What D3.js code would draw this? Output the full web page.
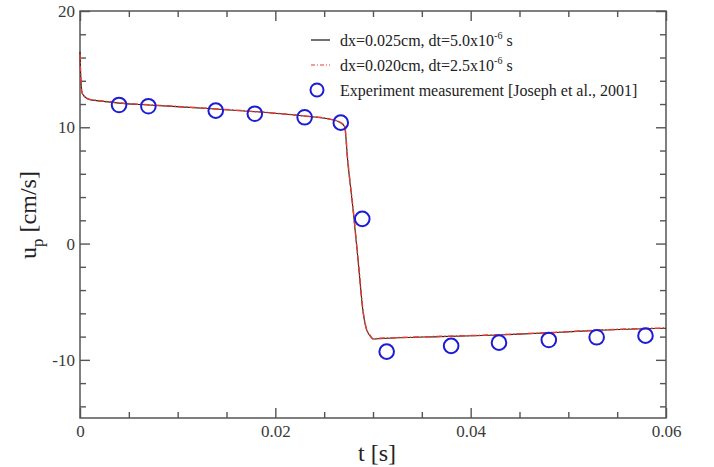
<!DOCTYPE html>
<html>
<head>
<meta charset="utf-8">
<script src="https://cdn.jsdelivr.net/npm/d3@7"></script>
<style>
  body { margin: 0; background: #fff; }
  svg { display: block; }
  svg text { font-family: "Liberation Serif", "Times New Roman", serif !important; }
</style>
</head>
<body>
<svg id="chart"></svg>
<script>
// Simulation, dx=0.025cm dt=5.0e-6 s (black solid)
const simAT = [0, 0.00005, 0.0001, 0.0002, 0.0004, 0.001, 0.002, 0.004, 0.007, 0.0139, 0.0179, 0.0229, 0.0256, 0.0266, 0.0271, 0.0274, 0.0280, 0.0285, 0.0290, 0.0293, 0.0297, 0.0300, 0.0307, 0.0369, 0.0430, 0.0492, 0.0533, 0.0600];
const simAU = [16.5, 15.0, 14.0, 13.0, 12.7, 12.38, 12.27, 12.08, 11.92, 11.57, 11.34, 10.97, 10.69, 10.43, 10.05, 7.2, 2.6, -1.7, -6.0, -7.3, -7.95, -8.2, -8.17, -8.0, -7.86, -7.63, -7.45, -7.28];

// Simulation, dx=0.020cm dt=2.5e-6 s (red dash-dot)
const simBT = [0, 0.00005, 0.0001, 0.0002, 0.0004, 0.001, 0.002, 0.004, 0.007, 0.0139, 0.0179, 0.0229, 0.0256, 0.0266, 0.0271, 0.0274, 0.0280, 0.0285, 0.0290, 0.0293, 0.0297, 0.0300, 0.0307, 0.0369, 0.0430, 0.0492, 0.0533, 0.0600];
const simBU = [16.3, 14.8, 13.9, 13.0, 12.7, 12.4, 12.29, 12.1, 11.94, 11.58, 11.35, 10.98, 10.7, 10.45, 10.1, 7.3, 2.7, -1.6, -5.9, -7.25, -7.9, -8.18, -8.15, -7.98, -7.84, -7.61, -7.43, -7.26];

// Experiment measurement [Joseph et al., 2001]
const obsT = [0.0040, 0.0070, 0.0139, 0.0179, 0.0230, 0.0267, 0.0289, 0.0314, 0.0380, 0.0429, 0.0480, 0.0529, 0.0579];
const obsU = [11.92, 11.81, 11.43, 11.17, 10.86, 10.40, 2.12, -9.29, -8.80, -8.52, -8.29, -8.06, -7.92];

const xMajor = [0, 0.02, 0.04, 0.06];
const xMinor = [0.005, 0.01, 0.015, 0.025, 0.03, 0.035, 0.045, 0.05, 0.055];
const yMajor = [-10, 0, 10, 20];
const yMinor = [-14, -12, -8, -6, -4, -2, 2, 4, 6, 8, 12, 14, 16, 18];

const legendLabels = [
  ["dx=0.025cm, dt=5.0x10", "-6", " s"],
  ["dx=0.020cm, dt=2.5x10", "-6", " s"],
  "Experiment measurement [Joseph et al., 2001]"
];

const width = 714;
const height = 467;
const margin = { top: 11, right: 48, bottom: 49, left: 80 };

const svg = d3.select("#chart")
  .attr("width", width)
  .attr("height", height)
  .attr("viewBox", [0, 0, width, height]);

const x = d3.scaleLinear()
  .domain([0, 0.06])
  .range([margin.left, width - margin.right]);

const y = d3.scaleLinear()
  .domain([-15, 20])
  .range([height - margin.bottom, margin.top]);

const axisColor = "#555";

// ticks pointing inward on all four sides
const addAxis = (axis, tx, ty, vals, size, labels) => {
  const g = svg.append("g")
    .attr("transform", `translate(${tx},${ty})`)
    .call(axis.tickValues(vals).tickSize(-size).tickPadding(labels ? 7 : 0)
      .tickFormat(labels ? (d => d3.format("")(d)) : () => ""));
  g.select(".domain").remove();
  g.selectAll(".tick line").attr("stroke", axisColor).attr("stroke-width", 1.4);
  g.selectAll(".tick text").attr("fill", "#3a3a3a").style("font-size", "17px");
  return g;
};

const xb = height - margin.bottom;
addAxis(d3.axisBottom(x), 0, xb, xMajor, 10, true);
addAxis(d3.axisBottom(x), 0, xb, xMinor, 6, false);
addAxis(d3.axisTop(x), 0, margin.top, xMajor, 10, false);
addAxis(d3.axisTop(x), 0, margin.top, xMinor, 6, false);
const yl = addAxis(d3.axisLeft(y), margin.left, 0, yMajor, 10, false);
yl.selectAll(".tick text").remove();
yl.selectAll(".tick").append("text")
  .attr("x", -5).attr("dy", "0.32em")
  .attr("text-anchor", "end")
  .attr("fill", "#3a3a3a")
  .style("font-size", "17px")
  .text(d => d);
addAxis(d3.axisLeft(y), margin.left, 0, yMinor, 6, false);
addAxis(d3.axisRight(y), width - margin.right, 0, yMajor, 10, false);
addAxis(d3.axisRight(y), width - margin.right, 0, yMinor, 6, false);

// frame
svg.append("rect")
  .attr("x", margin.left)
  .attr("y", margin.top)
  .attr("width", x(0.06) - x(0))
  .attr("height", y(-15) - y(20))
  .attr("fill", "none")
  .attr("stroke", axisColor)
  .attr("stroke-width", 1.5);

const line = d3.line()
  .x(d => x(d[0]))
  .y(d => y(d[1]))
  .curve(d3.curveMonotoneX);

svg.append("path")
  .datum(simAT.map((t, i) => [t, simAU[i]]))
  .attr("d", line)
  .attr("fill", "none")
  .attr("stroke", "#222")
  .attr("stroke-width", 1.1);

svg.append("path")
  .datum(simBT.map((t, i) => [t, simBU[i]]))
  .attr("d", line)
  .attr("fill", "none")
  .attr("stroke", "#ec3a2e")
  .attr("stroke-width", 1.5)
  .attr("stroke-dasharray", "6,2,1.5,2");

svg.append("g")
  .selectAll("circle")
  .data(obsT.map((t, i) => [t, obsU[i]]))
  .join("circle")
  .attr("cx", d => x(d[0]))
  .attr("cy", d => y(d[1]))
  .attr("r", 7.3)
  .attr("fill", "none")
  .attr("stroke", "#1c1cd6")
  .attr("stroke-width", 2);

// legend
const lg = svg.append("g").style("font-size", "16px").attr("fill", "#222");
const rows = [40, 65, 90];
lg.append("line").attr("x1", 311).attr("x2", 330).attr("y1", rows[0]).attr("y2", rows[0])
  .attr("stroke", "#111").attr("stroke-width", 1.2);
lg.append("line").attr("x1", 311).attr("x2", 330).attr("y1", rows[1]).attr("y2", rows[1])
  .attr("stroke", "#ec3a2e").attr("stroke-width", 1.2).attr("stroke-dasharray", "4,2,1,2");
lg.append("circle").attr("cx", 317).attr("cy", rows[2]).attr("r", 6.5)
  .attr("fill", "none").attr("stroke", "#1c1cd6").attr("stroke-width", 2);

legendLabels.forEach((lab, i) => {
  const t = lg.append("text").attr("x", 340).attr("y", rows[i] + 5.5);
  if (Array.isArray(lab)) {
    t.append("tspan").text(lab[0]);
    t.append("tspan").attr("dy", -7).style("font-size", "10px").text(lab[1]);
    t.append("tspan").attr("dy", 7).text(lab[2]);
  } else {
    t.text(lab);
  }
});

// axis titles
svg.append("text")
  .attr("x", (margin.left + width - margin.right) / 2 + 4)
  .attr("y", 461)
  .attr("text-anchor", "middle")
  .attr("fill", "#222")
  .style("font-size", "24px")
  .text("t [s]");

const yt = svg.append("text")
  .attr("transform", "translate(36,215) rotate(-90)")
  .attr("text-anchor", "middle")
  .attr("fill", "#222")
  .style("font-size", "24px");
yt.append("tspan").text("u");
yt.append("tspan").attr("dy", 7).style("font-size", "17px").text("p");
yt.append("tspan").attr("dy", -7).text(" [cm/s]");
</script>
</body>
</html>
